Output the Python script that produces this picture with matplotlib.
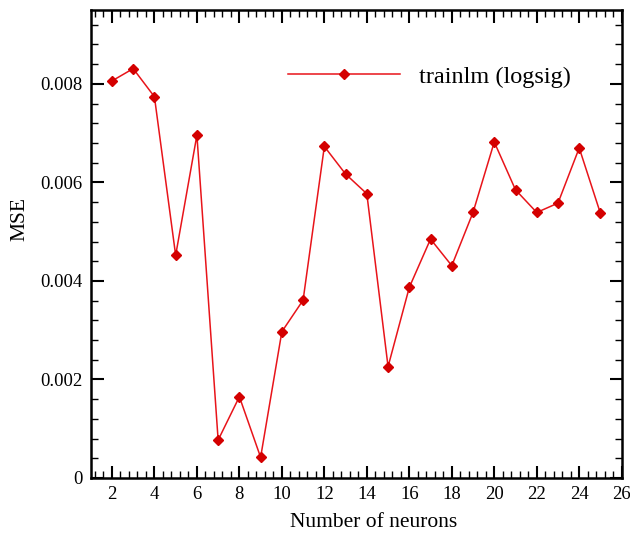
import matplotlib
matplotlib.use("Agg")
import matplotlib.pyplot as plt
from matplotlib.ticker import MultipleLocator

neurons = [2, 3, 4, 5, 6, 7, 8, 9, 10, 11, 12, 13, 14, 15, 16, 17, 18, 19, 20, 21, 22, 23, 24, 25]
mse = [0.00806, 0.00831, 0.00774, 0.00452, 0.00696, 0.00077, 0.00165, 0.00042,
       0.00297, 0.00361, 0.00673, 0.00617, 0.00577, 0.00226, 0.00387, 0.00485,
       0.00431, 0.00539, 0.00682, 0.00585, 0.00539, 0.00558, 0.00670, 0.00537]
label = "trainlm (logsig)"

plt.rcParams['font.family'] = ['Liberation Serif', 'DejaVu Serif']

fig = plt.figure(figsize=(6.30, 5.33), dpi=100)
ax = fig.add_axes([90.7/630, 1 - 478/533, (621.7-90.7)/630, (478-10)/533])

ax.plot(neurons, mse, color='#e8141a', lw=1.1, marker='D', markersize=5.5,
        markerfacecolor='#d40000', markeredgecolor='#d40000', label=label)

ax.set_xlim(1, 26)
ax.set_ylim(0, 0.0095)
ax.xaxis.set_major_locator(MultipleLocator(2))
ax.xaxis.set_minor_locator(MultipleLocator(0.4))
ax.yaxis.set_major_locator(MultipleLocator(0.002))
ax.yaxis.set_minor_locator(MultipleLocator(0.0004))
ax.set_xticks(range(2, 27, 2))
ax.set_yticks([0, 0.002, 0.004, 0.006, 0.008])
ax.set_yticklabels(['0', '0.002', '0.004', '0.006', '0.008'])

ax.tick_params(which='both', direction='in', top=True, right=True, labelsize=13.5, width=1.5, pad=6)
ax.tick_params(which='major', length=9)
ax.tick_params(which='minor', length=5, width=1)
for s in ax.spines.values():
    s.set_linewidth(1.8)

ax.set_xlabel("Number of neurons", fontsize=15.5, labelpad=7, x=0.533)
ax.set_ylabel("MSE", fontsize=15.5, labelpad=8, y=0.553)

leg = ax.legend(loc='center left', bbox_to_anchor=(0.372, 0.857), frameon=False,
                fontsize=17.5, handlelength=4.6, handletextpad=0.8, borderpad=0,
                borderaxespad=0)

fig.savefig("out.png", dpi=100)
